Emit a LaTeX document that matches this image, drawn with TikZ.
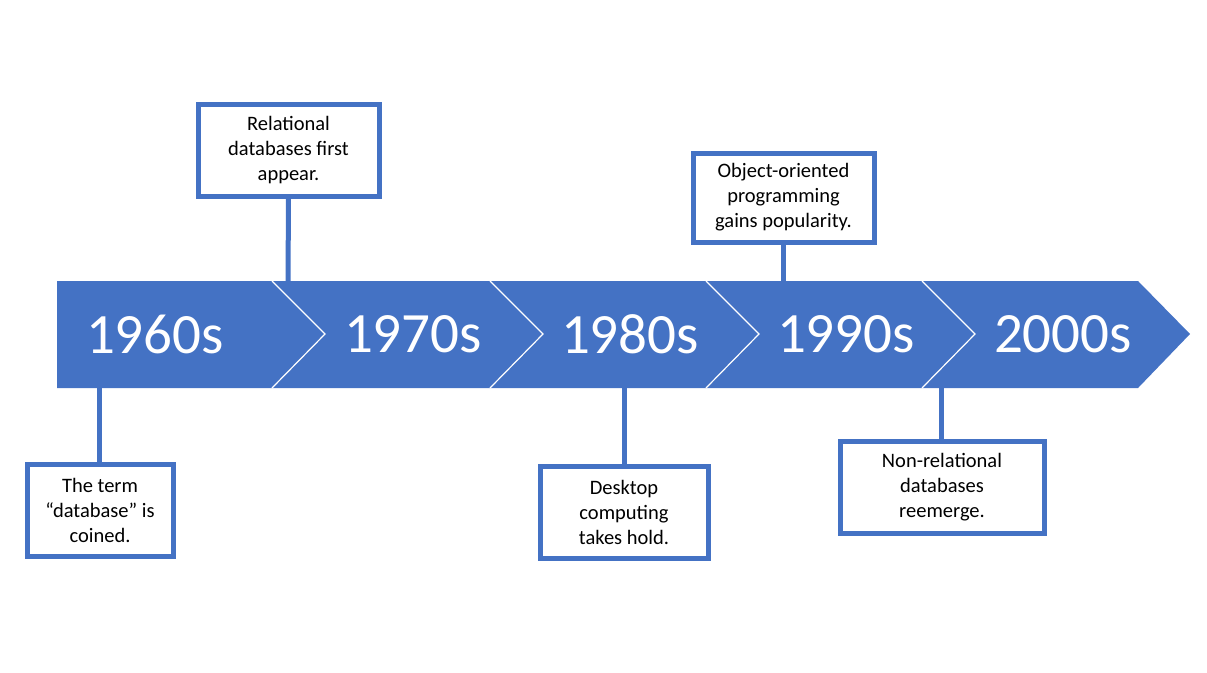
\documentclass[tikz,border=0pt]{standalone}
\usepackage{fontspec}
\setmainfont{Carlito}
\definecolor{blu}{HTML}{4472C4}
\begin{document}
\begin{tikzpicture}[x=1pt,y=-1pt,
  ev/.style={draw=blu,line width=5pt,fill=white,align=center,inner sep=0pt,font=\fontsize{20.5}{25}\selectfont},
  yr/.style={text=white,font=\fontsize{57}{62}\selectfont},
  con/.style={draw=blu,line width=5pt}]
\useasboundingbox (0,0) rectangle (1207,672);
\fill[blu] (57,281) -- (1138,281) -- (1190,334) -- (1138,388) -- (57,388) -- cycle;
\foreach \x in {272,490,706,922}
  \draw[white,line width=1.2pt] (\x,281) -- (\x+53,334) -- (\x,388);
\node[yr] (y1) at (155,334) {1960s};
\node[yr] (y2) at (413,334) {1970s};
\node[yr] (y3) at (630,334) {1980s};
\node[yr] (y4) at (846,334) {1990s};
\node[yr] (y5) at (1063,334) {2000s};
\coordinate (b1) at (99,388);
\coordinate (b2) at (288,281);
\coordinate (b3) at (624,388);
\coordinate (b4) at (783,281);
\coordinate (b5) at (941,388);
\node[ev,minimum width=146pt,minimum height=92pt] (e1) at (100,510) {The term\\``database'' is\\coined.};
\node[ev,minimum width=181pt,minimum height=92pt] (e2) at (288.5,150) {Relational\\databases first\\appear.};
\node[ev,minimum width=168pt,minimum height=92pt] (e3) at (624,512) {Desktop\\computing\\takes hold.};
\node[ev,minimum width=181pt,minimum height=89pt] (e4) at (783.5,197.5) {Object-oriented\\programming\\gains popularity.};
\node[ev,minimum width=204pt,minimum height=92pt] (e5) at (942,487) {Non-relational\\databases\\reemerge.};
\draw[con] (b1) -- (e1.north -| b1);
\draw[con] (b2) -- (e2.south);
\draw[con] (b3) -- (e3.north);
\draw[con] (b4) -- (e4.south -| b4);
\draw[con] (b5) -- (e5.north -| b5);
\end{tikzpicture}
\end{document}
